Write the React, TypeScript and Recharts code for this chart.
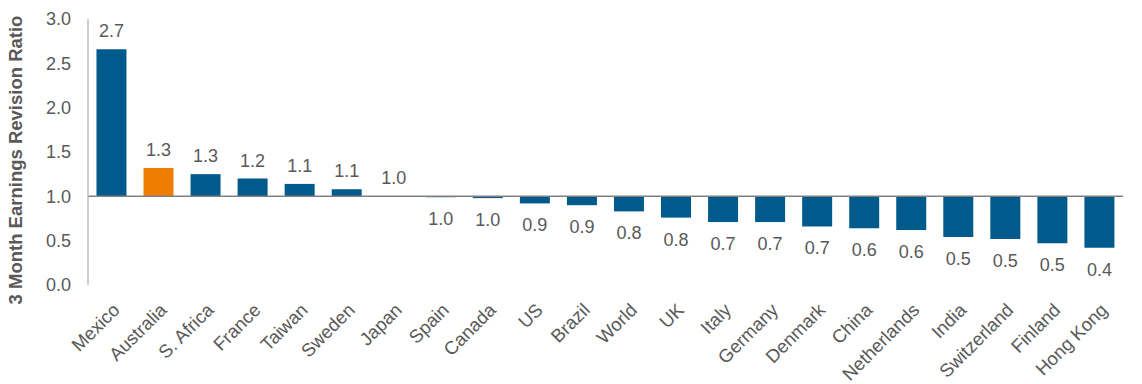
import { BarChart, Bar, XAxis, YAxis, Cell, LabelList, ReferenceLine } from 'recharts'

const countries = [
  'Mexico', 'Australia', 'S. Africa', 'France', 'Taiwan', 'Sweden', 'Japan', 'Spain',
  'Canada', 'US', 'Brazil', 'World', 'UK', 'Italy', 'Germany', 'Denmark', 'China',
  'Netherlands', 'India', 'Switzerland', 'Finland', 'Hong Kong',
]

const ratios = [
  2.66, 1.32, 1.25, 1.2, 1.14, 1.08, 1.003, 0.99,
  0.98, 0.92, 0.9, 0.83, 0.76, 0.71, 0.71, 0.66, 0.64,
  0.62, 0.54, 0.52, 0.47, 0.42,
]

const highlight = 'Australia'
const yTicks = [0, 0.5, 1, 1.5, 2, 2.5, 3]

const BLUE = '#005b8c'
const ORANGE = '#ef7d00'
const GREY = '#595959'

const rows = countries.map((name, i) => ({ name, value: ratios[i], range: [1, ratios[i]] }))

function ValueLabel(props: any) {
  const { x, y, width, height, value } = props
  const v = Number(value)
  const top = Math.min(y, y + height)
  const bottom = Math.max(y, y + height)
  const ty = v >= 1 ? top - 12 : bottom + 28
  return (
    <text x={x + width / 2} y={ty} textAnchor="middle" fill={GREY} fontSize={18}>
      {v.toFixed(1)}
    </text>
  )
}

function CountryTick(props: any) {
  const { x, y, payload } = props
  return (
    <g transform={`translate(${x},${y + 9})`}>
      <text textAnchor="end" transform="rotate(-45)" fill={GREY} fontSize={18.5} dy="0.7em">
        {payload.value}
      </text>
    </g>
  )
}

function YTitle() {
  return (
    <text
      transform="translate(22,160) rotate(-90)"
      textAnchor="middle"
      fill={GREY}
      fontSize={18.5}
      fontWeight="bold"
    >
      3 Month Earnings Revision Ratio
    </text>
  )
}

export default function App() {
  return (
    <div style={{ position: 'absolute', left: 0, top: 0, background: '#fff', fontFamily: '"Liberation Sans", Arial, sans-serif' }}>
      <BarChart
        width={1142}
        height={384}
        data={rows}
        margin={{ top: 19, right: 19, left: 0, bottom: 0 }}
        barCategoryGap="18%"
      >
        <YAxis
          width={88}
          domain={[0, 3]}
          ticks={yTicks}
          tickFormatter={(v: number) => v.toFixed(1)}
          axisLine={{ stroke: '#bfbfbf', strokeWidth: 1.5 }}
          tickLine={false}
          tickSize={8}
          tickMargin={9}
          tick={{ fill: GREY, fontSize: 18 }}
          label={<YTitle />}
        />
        <XAxis
          dataKey="name"
          height={99}
          axisLine={false}
          tickLine={false}
          interval={0}
          tick={<CountryTick />}
        />
        <Bar dataKey="range" isAnimationActive={false}>
          {rows.map((r) => (
            <Cell key={r.name} fill={r.name === highlight ? ORANGE : BLUE} />
          ))}
          <LabelList dataKey="value" content={<ValueLabel />} />
        </Bar>
        <ReferenceLine y={1} stroke="#808080" strokeWidth={1.5} />
      </BarChart>
    </div>
  )
}
